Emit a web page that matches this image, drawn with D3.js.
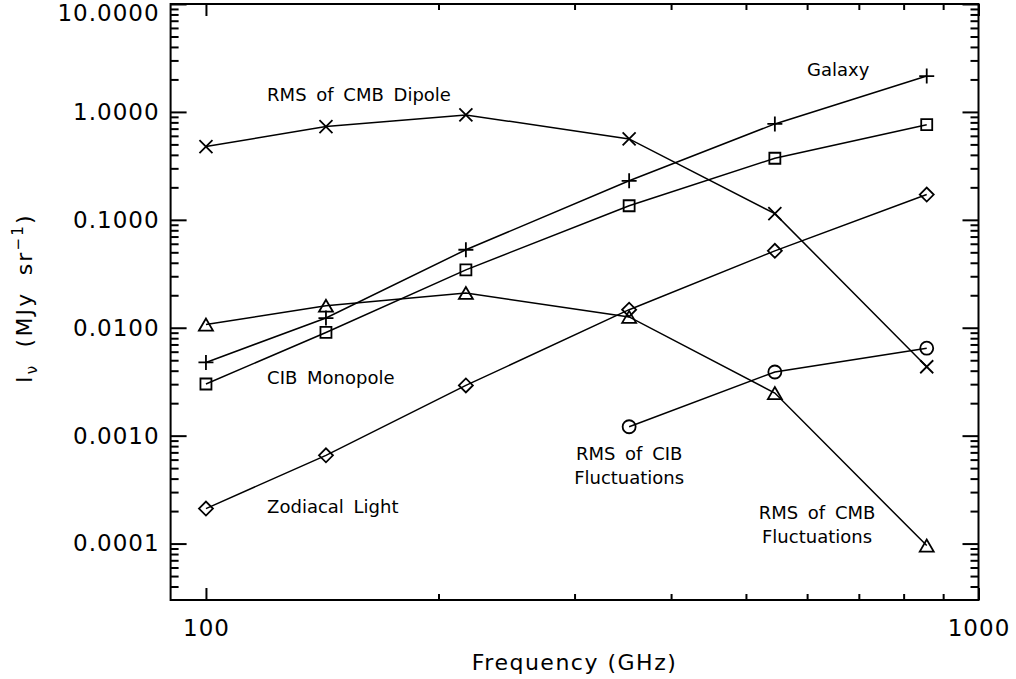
<!doctype html>
<html>
<head>
<script src="https://cdn.jsdelivr.net/npm/d3@7"></script>
<style>
  body { margin: 0; background: #fff; }
  text { font-family: "DejaVu Sans", sans-serif; fill: #000; }
  .tick text { font-size: 23px; letter-spacing: 1px; }
  .note { font-size: 18px; word-spacing: 4px; }
  .title { font-size: 22px; letter-spacing: 1.5px; }
</style>
</head>
<body>
<svg width="1016" height="679"></svg>
<script>
// data (GHz, MJy/sr)
var freqs = [100, 143, 217, 353, 545, 857];
var cmbDipole   = [0.477, 0.731, 0.938, 0.562, 0.114, 0.00435];
var galaxy      = [0.00477, 0.0123, 0.0528, 0.230, 0.774, 2.15];
var cibMonopole = [0.00301, 0.00904, 0.0344, 0.135, 0.372, 0.762];
var cmbFluct    = [0.0107, 0.0160, 0.0210, 0.0126, 0.00248, 0.0000958];
var zodiacal    = [0.000211, 0.000657, 0.00292, 0.0147, 0.0516, 0.1715];
var cibFreqs = [353, 545, 857];
var cibFluct = [0.00121, 0.00389, 0.00646];

var xTicks = [100, 1000];
var yTicks = [0.0001, 0.001, 0.01, 0.1, 1, 10];

// annotation text, placed in data coordinates like xyouts
var noteText  = [["RMS of CMB Dipole"], ["Galaxy"], ["CIB Monopole"], ["Zodiacal Light"],
                 ["RMS of CIB", "Fluctuations"], ["RMS of CMB", "Fluctuations"]];
var noteFreq  = [120, 600, 120, 120, 353, 618];
var noteValue = [1.27, 2.15, 0.00303, 0.000194, 0.00059, 0.000169];
var noteAlign = ["start", "start", "start", "start", "middle", "middle"];

var svg = d3.select("svg");
var plotL = 170.6, plotR = 978.5, plotT = 4, plotB = 600;

var x = d3.scaleLog().domain([90, 1000]).range([plotL, plotR]);
var y = d3.scaleLog().domain([3e-5, 10]).range([plotB, plotT]);

// minor ticks: 2..9 times each power of ten inside the domain
function minorTicks(scale, p0, p1) {
    var dom = scale.domain(), out = [];
    d3.range(p0, p1 + 1).forEach(function(p) {
        d3.range(2, 10).forEach(function(k) {
            var v = k * Math.pow(10, p);
            if (v > dom[0] * 1.0001 && v < dom[1] * 0.9999) out.push(v);
        });
    });
    return out;
}
var xMinor = minorTicks(x, 1, 2);
var yMinor = minorTicks(y, -5, 0);

function styleAxis(g) {
    g.select(".domain").remove();
    g.selectAll("line").attr("stroke", "#000").attr("stroke-width", 2);
}

// left axis
svg.append("g").attr("transform", "translate(" + plotL + ",0)")
    .call(d3.axisLeft(y).tickValues(yTicks).tickSize(-16).tickPadding(11)
        .tickFormat(d3.format(".4f")))
    .call(styleAxis)
    .selectAll("text").filter(function(d) { return d === 10; }).attr("y", 9);
svg.append("g").attr("transform", "translate(" + plotL + ",0)")
    .call(d3.axisLeft(y).tickValues(yMinor).tickSize(-8).tickFormat(""))
    .call(styleAxis);

// right axis
svg.append("g").attr("transform", "translate(" + plotR + ",0)")
    .call(d3.axisRight(y).tickValues(yTicks).tickSize(-16).tickFormat(""))
    .call(styleAxis);
svg.append("g").attr("transform", "translate(" + plotR + ",0)")
    .call(d3.axisRight(y).tickValues(yMinor).tickSize(-8).tickFormat(""))
    .call(styleAxis);

// bottom axis
svg.append("g").attr("transform", "translate(0," + plotB + ")")
    .call(d3.axisBottom(x).tickValues(xTicks).tickSize(-12).tickPadding(20)
        .tickFormat(d3.format("d")))
    .call(styleAxis);
svg.append("g").attr("transform", "translate(0," + plotB + ")")
    .call(d3.axisBottom(x).tickValues(xMinor).tickSize(-6).tickFormat(""))
    .call(styleAxis);

// top axis
svg.append("g").attr("transform", "translate(0," + plotT + ")")
    .call(d3.axisTop(x).tickValues(xTicks).tickSize(-12).tickFormat(""))
    .call(styleAxis);
svg.append("g").attr("transform", "translate(0," + plotT + ")")
    .call(d3.axisTop(x).tickValues(xMinor).tickSize(-6).tickFormat(""))
    .call(styleAxis);

// frame
svg.append("rect")
    .attr("x", plotL).attr("y", plotT)
    .attr("width", plotR - plotL).attr("height", plotB - plotT)
    .attr("fill", "none").attr("stroke", "#000").attr("stroke-width", 2);

// axis titles
svg.append("text").attr("class", "title")
    .attr("x", (plotL + plotR) / 2).attr("y", 670)
    .attr("text-anchor", "middle")
    .text("Frequency (GHz)");

var yt = svg.append("text").attr("class", "title")
    .attr("text-anchor", "middle")
    .style("letter-spacing", "2.2px")
    .attr("transform", "translate(32,298)rotate(-90)");
yt.append("tspan").text("I");
yt.append("tspan").attr("dy", 5).style("font-size", "15px").text("\u03bd");
yt.append("tspan").attr("dy", -5).style("word-spacing", "7px").text(" (MJy sr");
yt.append("tspan").attr("dy", -9).style("font-size", "15px").text("\u22121");
yt.append("tspan").attr("dy", 9).text(")");

// symbols
var symbols = {
    plus: "M-7.5,0H7.5M0,-7.5V7.5",
    cross: "M-6.5,-6.5L6.5,6.5M-6.5,6.5L6.5,-6.5",
    square: "M-5.5,-5.5H5.5V5.5H-5.5Z",
    diamond: "M-7,0L0,-7L7,0L0,7Z",
    triangle: "M-7,6L0,-6L7,6Z",
    circle: "M6.5,0A6.5,6.5 0 1,1 -6.5,0A6.5,6.5 0 1,1 6.5,0Z"
};

var series = [
    { xs: freqs, ys: cmbDipole, sym: "cross" },
    { xs: freqs, ys: galaxy, sym: "plus" },
    { xs: freqs, ys: cibMonopole, sym: "square" },
    { xs: freqs, ys: cmbFluct, sym: "triangle" },
    { xs: freqs, ys: zodiacal, sym: "diamond" },
    { xs: cibFreqs, ys: cibFluct, sym: "circle" }
];

var line = d3.line()
    .x(function(d) { return x(d[0]); })
    .y(function(d) { return y(d[1]); });

series.forEach(function(s) {
    var pts = s.xs.map(function(f, i) { return [f, s.ys[i]]; });
    svg.append("path")
        .datum(pts)
        .attr("d", line)
        .attr("fill", "none")
        .attr("stroke", "#000")
        .attr("stroke-width", 1.5);
    svg.append("g").selectAll("path")
        .data(pts)
        .enter()
        .append("path")
        .attr("d", symbols[s.sym])
        .attr("transform", function(d) { return "translate(" + x(d[0]) + "," + y(d[1]) + ")"; })
        .attr("fill", "none")
        .attr("stroke", "#000")
        .attr("stroke-width", 1.8);
});

// annotations
noteText.forEach(function(lines, i) {
    lines.forEach(function(t, j) {
        svg.append("text").attr("class", "note")
            .attr("x", x(noteFreq[i]))
            .attr("y", y(noteValue[i]) + j * 24)
            .attr("text-anchor", noteAlign[i])
            .text(t);
    });
});
</script>
</body>
</html>
